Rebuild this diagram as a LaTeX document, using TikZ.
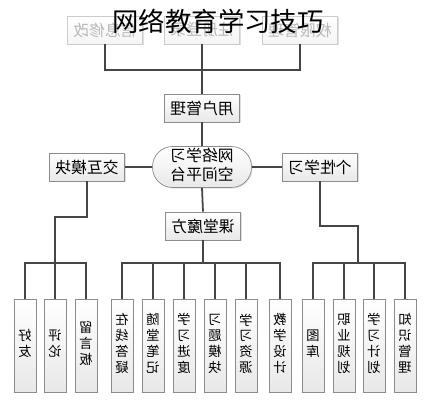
\documentclass[tikz,border=0pt]{standalone}
\usepackage{fontspec}
\usepackage{graphicx}
\newfontfamily\cjk{Noto Sans CJK SC}
\usetikzlibrary{shadows}

\newcommand{\mir}[1]{\reflectbox{#1}}
\newcommand{\vtxt}[1]{\reflectbox{\begin{tabular}{@{}c@{}}#1\end{tabular}}}

\definecolor{boxline}{HTML}{8C8C8C}
\definecolor{linkline}{HTML}{454545}

\tikzset{
  hbox/.style={draw=boxline, top color=white, bottom color=gray!18,
    minimum width=1.5cm, minimum height=0.56cm, inner sep=1pt,
    font=\cjk\fontsize{9}{10}\selectfont,
    drop shadow={opacity=0.25,shadow xshift=0.6pt,shadow yshift=-0.6pt}},
  topbox/.style={hbox, draw=gray!40, text=gray!55, top color=white, bottom color=gray!8},
  vbox/.style={hbox, minimum width=0.44cm, minimum height=1.86cm,
    font=\cjk\fontsize{7.6}{9}\selectfont},
  hub/.style={hbox, minimum width=1.98cm, minimum height=0.8cm, rounded corners=0.4cm},
  link/.style={draw=linkline, line width=1pt}
}

\begin{document}
\begin{tikzpicture}[x=0.02cm,y=-0.02cm]
  \useasboundingbox (0,0) rectangle (433,400);

  % upper part
  \node[topbox] (info)   at (105,30) {\mir{信息修改}};
  \node[topbox] (login)  at (202,30) {\mir{注册登录}};
  \node[topbox] (rights) at (300,30) {\mir{权限管理}};
  \node[hbox] (user) at (202,108) {\mir{用户管理}};
  \node[hub] (hub) at (202,167) {\vtxt{网络学习\\空间平台}};
  \node[hbox] (interact) at (87,167) {\mir{交互模块}};
  \node[hbox] (personal) at (320,167) {\mir{个性学习}};
  \node[hbox] (class) at (203,226) {\mir{课堂魔方}};

  % leaves
  \foreach \x/\name/\txt in {25/friend/{好\\友}, 55/comment/{评\\论}, 86/board/{留\\言\\板},
      122/answer/{在\\线\\答\\疑}, 153/notes/{随\\堂\\笔\\记}, 184/progress/{学\\习\\进\\度},
      215/exercise/{习\\题\\模\\块}, 246/resource/{学\\习\\资\\源}, 280/design/{教\\学\\设\\计},
      313/gallery/{图\\库}, 344/career/{职\\业\\规\\划}, 374/plan/{学\\习\\计\\划},
      405/knowledge/{知\\识\\管\\理}}
    \node[vbox] (\name) at (\x,345.5) {\vtxt{\txt}};

  % bus points
  \coordinate (topbus) at (202,70);
  \coordinate (ibend) at (55,217);
  \coordinate (ibus) at (55,263);
  \coordinate (cbus) at (203,263);
  \coordinate (pbend) at (358,226);
  \coordinate (pbus) at (358,263);

  \draw[link] (info.south) |- (topbus) -| (rights.south);
  \draw[link] (login.south) -- (user.north);
  \draw[link] (user.south) -- (hub.north);
  \draw[link] (hub.west) -- (interact.east);
  \draw[link] (hub.east) -- (personal.west);
  \draw[link] (hub.south) -- (class.north);

  \draw[link] (interact.south) |- (ibend) -- (ibus);
  \draw[link] (friend.north) |- (ibus) -| (board.north);
  \draw[link] (comment.north) -- (comment.north |- ibus);

  \draw[link] (class.south) -- (cbus);
  \draw[link] (answer.north) |- (cbus) -| (design.north);
  \foreach \n in {notes,progress,exercise,resource}
    \draw[link] (\n.north) -- (\n.north |- cbus);

  \draw[link] (personal.south) |- (pbend) -- (pbus);
  \draw[link] (gallery.north) |- (pbus) -| (knowledge.north);
  \foreach \n in {career,plan}
    \draw[link] (\n.north) -- (\n.north |- pbus);

  % title on top
  \node[font=\cjk\fontsize{15}{16}\selectfont] (title) at (218,21) {网络教育学习技巧};
\end{tikzpicture}
\end{document}
